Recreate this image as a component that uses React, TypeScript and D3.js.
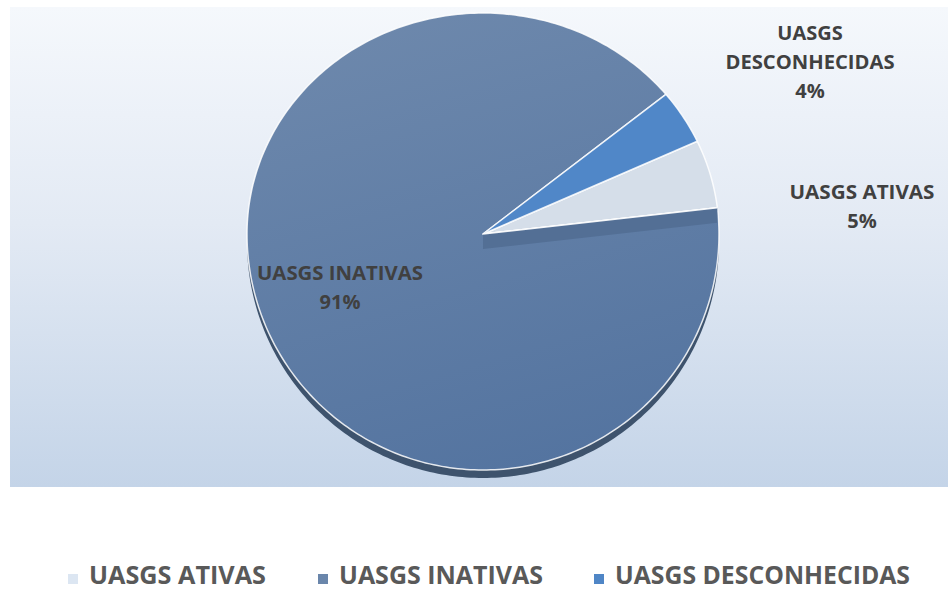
import React from "react";
import * as d3 from "d3";

const categories = ["UASGS ATIVAS", "UASGS INATIVAS", "UASGS DESCONHECIDAS"];
const values = [5, 91, 4];
const colors = ["#d5dee9", "url(#gInat)", "#5087c8"];
const legendColors = ["#dce6f2", "#6a86ab", "#4f86c6"];

const W = 948;
const H = 590;
const cx = 483;
const cy = 234;
const rx = 236;
const ryTop = 221;
const ryBot = 236;
const depth = 15;
const START = (65.2 * Math.PI) / 180;

function pt(a: number, dy = 0): [number, number] {
  const c = Math.cos(a);
  const ry = c > 0 ? ryTop : ryBot;
  return [cx + rx * Math.sin(a), cy - ry * c + dy];
}

function slicePath(a0: number, a1: number, dy = 0) {
  const n = Math.max(4, Math.ceil(((a1 - a0) * 180) / Math.PI));
  const pts: [number, number][] = [[cx, cy + dy]];
  d3.range(n + 1).forEach((i) => pts.push(pt(a0 + ((a1 - a0) * i) / n, dy)));
  return d3.line()(pts)! + "Z";
}

export default function App() {
  const pie = d3
    .pie<number>()
    .sort(null)
    .startAngle(START)
    .endAngle(START + 2 * Math.PI);
  const arcs = pie(values);
  const inat = arcs[1];
  const pA = pt(inat.startAngle);
  const band = d3.line()([
    [cx, cy],
    pA,
    [pA[0], pA[1] + depth],
    [cx, cy + depth],
  ])! + "Z";

  const labels = [
    { lines: ["UASGS ATIVAS", "5%"], x: 862, y: 199, w: [145, 0] },
    { lines: ["UASGS INATIVAS", "91%"], x: 340, y: 280, w: [166, 0] },
    { lines: ["UASGS", "DESCONHECIDAS", "4%"], x: 810, y: 40, w: [0, 169, 0] },
  ];
  const legendX = [68, 318, 594];
  const legendTextW = [177, 204, 295];

  return (
    <svg
      width={W}
      height={H}
      style={{ position: "absolute", left: 0, top: 0, display: "block" }}
    >
      <defs>
        <linearGradient id="gBg" x1="0" y1="0" x2="0" y2="1">
          <stop offset="0" stopColor="#f5f8fc" />
          <stop offset="0.45" stopColor="#e3eaf4" />
          <stop offset="1" stopColor="#c4d4e8" />
        </linearGradient>
        <linearGradient id="gInat" x1="0.3" y1="0" x2="0.6" y2="1">
          <stop offset="0" stopColor="#6d88ac" />
          <stop offset="1" stopColor="#5474a0" />
        </linearGradient>
      </defs>
      <rect x={0} y={0} width={W} height={H} fill="#ffffff" />
      <rect x={10} y={7} width={938} height={480} fill="url(#gBg)" />
      {/* bottom thickness */}
      <path d={slicePath(0, 2 * Math.PI, 8)} fill="#3e536d" />
      {arcs.map((a, i) => (
        <path
          key={i}
          d={slicePath(a.startAngle, a.endAngle)}
          fill={colors[i]}
          stroke="#ffffff"
          strokeOpacity={0.85}
          strokeWidth={1.5}
          strokeLinejoin="round"
        />
      ))}
      <path d={band} fill="#536f95" />
      <line
        x1={cx}
        y1={cy}
        x2={pA[0]}
        y2={pA[1]}
        stroke="#ffffff"
        strokeOpacity={0.9}
        strokeWidth={1.5}
      />
      {labels.map((l, i) => (
        <text
          key={i}
          textAnchor="middle"
          fontFamily="'Open Sans', Lato, sans-serif"
          fontWeight={700}
          fontSize={20}
          fill="#404040"
        >
          {l.lines.map((t, j) => (
            <tspan
              key={j}
              x={l.x}
              y={l.y + j * 29}
              {...(l.w[j] ? { textLength: l.w[j], lengthAdjust: "spacingAndGlyphs" } : {})}
            >
              {t}
            </tspan>
          ))}
        </text>
      ))}
      {categories.map((c, i) => (
        <g key={c}>
          <rect x={legendX[i]} y={574} width={10} height={10} fill={legendColors[i]} />
          <text
            x={legendX[i] + 21}
            y={584}
            fontFamily="'Open Sans', Lato, sans-serif"
            fontWeight={700}
            fontSize={25}
            fill="#595959"
            textLength={legendTextW[i]}
            lengthAdjust="spacingAndGlyphs"
          >
            {c}
          </text>
        </g>
      ))}
    </svg>
  );
}
